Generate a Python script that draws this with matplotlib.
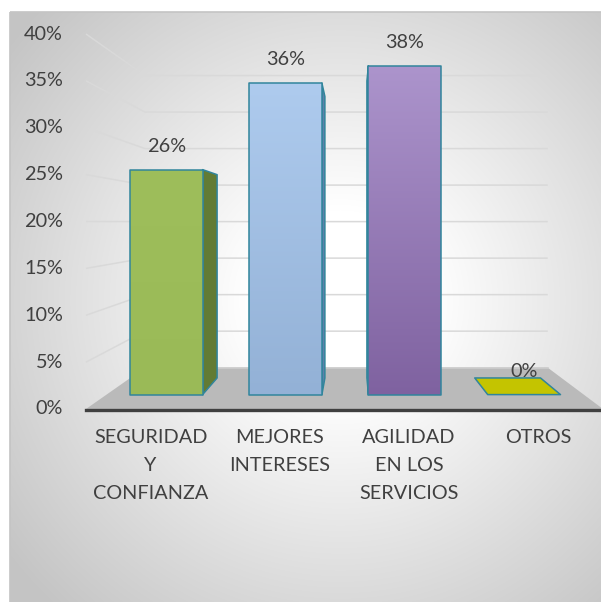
import numpy as np
import matplotlib.pyplot as plt
from matplotlib.patches import Polygon, Rectangle
from matplotlib.colors import LinearSegmentedColormap

categories = ["SEGURIDAD\nY\nCONFIANZA", "MEJORES\nINTERESES", "AGILIDAD\nEN LOS\nSERVICIOS", "OTROS"]
values = [26, 36, 38, 0]
value_labels = ["26%", "36%", "38%", "0%"]
y_ticks = [0, 5, 10, 15, 20, 25, 30, 35, 40]
y_tick_labels = ["0%", "5%", "10%", "15%", "20%", "25%", "30%", "35%", "40%"]

top_colors = ["#9ebe5b", "#aecbee", "#ac94cc", "#c4c400"]
bottom_colors = ["#9aba57", "#93b1d6", "#7f62a0", "#c4c400"]
side_colors = ["#627b34", "#5f7fa9", "#4f3f66", "#8a8a00"]
edge_color = "#31859c"
text_color = "#404040"

# pseudo 3d scene, all in pixel units
X_LEFT, X_RIGHT = 86, 603      # front edge of the floor
Y_ZERO, PX_PER_PCT = 409, 9.375
VX, VY = 353, 222              # vanishing point
S_WALL = 0.779                 # depth of the back wall
S_FRONT, S_BACK = 0.923, 0.834 # depth of the bar faces
BAR_FRAC = 0.61

W, H = 601, 602
plt.rcParams['font.family'] = ['Lato', 'DejaVu Sans']

fig = plt.figure(figsize=(W / 100, H / 100), dpi=100)
ax = fig.add_axes([0, 0, 1, 1])
ax.set_xlim(0, W)
ax.set_ylim(H, 0)
ax.axis('off')


def proj(X, v, s):
    Y = Y_ZERO - v * PX_PER_PCT
    return (VX + (X - VX) * s, VY + (Y - VY) * s)


# chart area background: soft radial shading
bx0, by0 = 10, 12
xx, yy = np.meshgrid(np.arange(bx0, W), np.arange(by0, H))
r = np.sqrt(((xx - 340) / 300.0) ** 2 + ((yy - 300) / 300.0) ** 2)
shade = 1 - 0.23 * np.clip((r - 0.3) / 1.1, 0, 1)
bg = np.dstack([shade, shade, shade])
ax.imshow(bg, extent=(bx0, W, H, by0), aspect='auto', zorder=0, interpolation='bilinear')
ax.add_patch(Rectangle((bx0, by0), W - bx0 + 2, H - by0 + 2, fill=False,
                       edgecolor="#c4c4c4", lw=1.2, zorder=1))

# gridlines on the side wall and back wall
for t in y_ticks[1:]:
    p_front = proj(X_LEFT, t, 1.0)
    p_back_l = proj(X_LEFT, t, S_WALL)
    p_back_r = proj(X_RIGHT, t, S_WALL)
    ax.plot([p_front[0], p_back_l[0], p_back_r[0]], [p_front[1], p_back_l[1], p_back_r[1]],
            color="#d9d9d9", lw=1.1, zorder=2, solid_capstyle='butt')

# floor
floor = [proj(X_LEFT, 0, 1.0), proj(X_RIGHT, 0, 1.0), proj(X_RIGHT, 0, S_WALL), proj(X_LEFT, 0, S_WALL)]
ax.add_patch(Polygon(floor, closed=True, facecolor="#bababa", edgecolor="none", zorder=3))
fb = [proj(X_LEFT, 0, S_WALL), proj(X_RIGHT, 0, S_WALL)]
ax.plot([fb[0][0], fb[1][0]], [fb[0][1], fb[1][1]], color="#cdcdcd", lw=1.2, zorder=3)
fl = [proj(X_LEFT, 0, 1.0), proj(X_RIGHT, 0, 1.0)]
ax.plot([fl[0][0], fl[1][0]], [fl[0][1] + 1, fl[1][1] + 1], color="#404040", lw=2.4, zorder=4)

# y tick labels
for t, lab in zip(y_ticks, y_tick_labels):
    x, y = proj(X_LEFT, t, 1.0)
    ax.text(63, y, lab, ha='right', va='center', fontsize=14.3, color=text_color, zorder=6)

# bars
cat_w = (X_RIGHT - X_LEFT) / len(categories)
for i, v in enumerate(values):
    cx = X_LEFT + cat_w * (i + 0.5)
    xa = cx - cat_w * BAR_FRAC / 2
    xb = cx + cat_w * BAR_FRAC / 2
    z = 5

    # side face
    if xb < VX:
        side = [proj(xb, 0, S_FRONT), proj(xb, v, S_FRONT), proj(xb, v, S_BACK), proj(xb, 0, S_BACK)]
    elif xa > VX:
        side = [proj(xa, 0, S_FRONT), proj(xa, v, S_FRONT), proj(xa, v, S_BACK), proj(xa, 0, S_BACK)]
    else:
        side = None
    if side is not None and v > 0:
        ax.add_patch(Polygon(side, closed=True, facecolor=side_colors[i],
                             edgecolor=edge_color, lw=1.1, zorder=z, joinstyle='round'))

    # top face (only seen when below eye level)
    if proj(xa, v, S_FRONT)[1] > VY:
        top = [proj(xa, v, S_FRONT), proj(xb, v, S_FRONT), proj(xb, v, S_BACK), proj(xa, v, S_BACK)]
        ax.add_patch(Polygon(top, closed=True, facecolor=top_colors[i],
                             edgecolor=edge_color, lw=1.1, zorder=z + 0.2, joinstyle='round'))

    # front face with vertical gradient
    if v > 0:
        front = [proj(xa, 0, S_FRONT), proj(xb, 0, S_FRONT), proj(xb, v, S_FRONT), proj(xa, v, S_FRONT)]
        fx = [p[0] for p in front]
        fy = [p[1] for p in front]
        cmap = LinearSegmentedColormap.from_list("bar%d" % i, [top_colors[i], bottom_colors[i]])
        poly = Polygon(front, closed=True, facecolor="none", edgecolor=edge_color,
                       lw=1.1, zorder=z + 0.3, joinstyle='round')
        ax.add_patch(poly)
        im = ax.imshow(np.linspace(0, 1, 256)[:, None], cmap=cmap, aspect='auto',
                       extent=(min(fx), max(fx), max(fy), min(fy)), zorder=z + 0.1)
        im.set_clip_path(poly)

    # value label
    lx, ly = proj(cx, v, S_FRONT)
    ax.text(lx, ly - 18, value_labels[i], ha='center', va='baseline', fontsize=14.3,
            color=text_color, zorder=7)

    # category label
    ax.text(cx, 429, categories[i], ha='center', va='top', fontsize=14.3,
            color=text_color, linespacing=1.78, zorder=6)

fig.savefig("out.png", dpi=100)
